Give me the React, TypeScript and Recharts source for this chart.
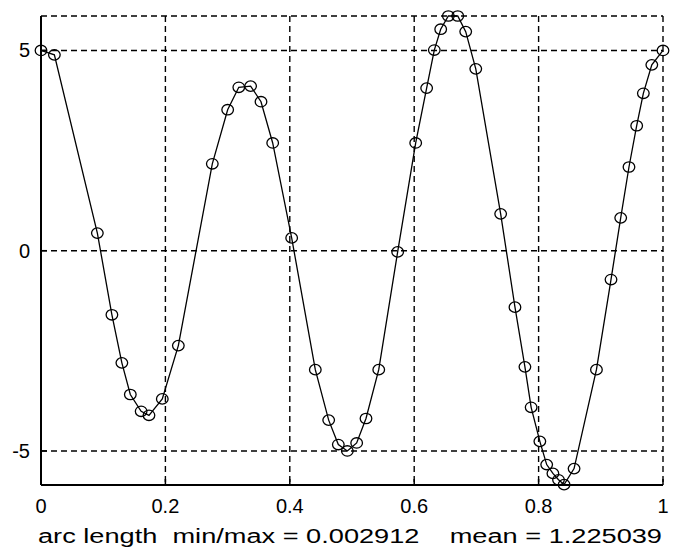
import { CartesianGrid, Label, Line, LineChart, XAxis, YAxis } from 'recharts';

// arc length samples (x) and curve values (y)
const arcX = [
  0, 0.0215, 0.0906, 0.114, 0.13, 0.1436, 0.161, 0.1736, 0.195, 0.2208,
  0.2754, 0.3001, 0.318, 0.337, 0.3537, 0.3725, 0.403, 0.441, 0.4625, 0.478,
  0.4925, 0.5075, 0.5225, 0.543, 0.5734, 0.6024, 0.62, 0.6323, 0.6426, 0.6549,
  0.67, 0.6828, 0.699, 0.739, 0.762, 0.778, 0.788, 0.802, 0.813, 0.823,
  0.832, 0.841, 0.857, 0.893, 0.9164, 0.932, 0.9453, 0.9577, 0.9684, 0.982, 1,
];
const arcY = [
  5.0, 4.89, 0.44, -1.6, -2.8, -3.59, -4.01, -4.11, -3.7, -2.37,
  2.17, 3.52, 4.08, 4.11, 3.72, 2.69, 0.32, -2.97, -4.23, -4.84,
  -5.0, -4.8, -4.19, -2.97, -0.03, 2.69, 4.06, 5.01, 5.53, 5.86,
  5.86, 5.47, 4.54, 0.92, -1.41, -2.9, -3.91, -4.76, -5.34, -5.56,
  -5.72, -5.84, -5.44, -2.97, -0.72, 0.82, 2.09, 3.12, 3.93, 4.64, 5.0,
];

const xTicks = [0, 0.2, 0.4, 0.6, 0.8, 1];
const yTicks = [-5, 0, 5];
const xLabel = 'arc length  min/max = 0.002912    mean = 1.225039';

const data = arcX.map((x, i) => ({ x, y: arcY[i] }));

const font = '"Liberation Sans", Arial, sans-serif';

const Marker = (props: any) => {
  const { cx, cy, index } = props;
  if (cx == null || cy == null) return <g key={index} />;
  return <ellipse key={index} cx={cx} cy={cy} rx={5.8} ry={5.2} fill="none" stroke="#000" strokeWidth={1.3} />;
};

const BottomTick = (props: any) => {
  const { x, y, payload } = props;
  return (
    <g>
      <line x1={x} y1={y} x2={x} y2={y - 6} stroke="#000" strokeWidth={1.5} />
      <text x={x} y={y + 28} textAnchor="middle" fontSize={20} fontFamily={font} fill="#000">
        {payload.value}
      </text>
    </g>
  );
};

const TopTick = (props: any) => {
  const { x, y } = props;
  return <line x1={x} y1={y} x2={x} y2={y + 6} stroke="#000" strokeWidth={1.5} />;
};

const LeftTick = (props: any) => {
  const { x, y, payload } = props;
  return (
    <g>
      <line x1={x} y1={y} x2={x + 6} y2={y} stroke="#000" strokeWidth={1.5} />
      <text x={x - 11} y={y + 7} textAnchor="end" fontSize={20} fontFamily={font} fill="#000">
        {payload.value}
      </text>
    </g>
  );
};

const RightTick = (props: any) => {
  const { x, y } = props;
  return <line x1={x} y1={y} x2={x - 6} y2={y} stroke="#000" strokeWidth={1.5} />;
};

export default function App() {
  return (
    <div style={{ position: 'absolute', left: 0, top: 0, background: '#fff' }}>
      <LineChart width={675} height={550} data={data} margin={{ top: 16, right: 12, bottom: 0, left: 0 }}>
        <CartesianGrid stroke="#000" strokeWidth={1.4} strokeDasharray="6 4" />
        <XAxis
          dataKey="x"
          type="number"
          domain={[0, 1]}
          ticks={xTicks}
          height={65}
          tickSize={0}
          tickMargin={0}
          tickLine={false}
          axisLine={{ stroke: '#000', strokeWidth: 2 }}
          tick={<BottomTick />}
          interval={0}
        >
          <Label
            content={(p: any) => {
              const vb = p.viewBox || { x: 41, width: 622, y: 485 };
              return (
                <text
                  x={vb.x + vb.width / 2 - 2}
                  y={543}
                  textAnchor="middle"
                  fontSize={20}
                  fontFamily={font}
                  fill="#000"
                  textLength={624}
                  lengthAdjust="spacingAndGlyphs"
                  style={{ whiteSpace: 'pre' }}
                >
                  {xLabel}
                </text>
              );
            }}
          />
        </XAxis>
        <XAxis
          xAxisId="top"
          orientation="top"
          type="number"
          domain={[0, 1]}
          ticks={xTicks}
          height={0}
          tickSize={0}
          tickLine={false}
          axisLine={{ stroke: '#000', strokeWidth: 2 }}
          tick={<TopTick />}
          interval={0}
        />
        <YAxis
          type="number"
          domain={[-5.85, 5.86]}
          ticks={yTicks}
          width={41}
          tickSize={0}
          tickMargin={0}
          tickLine={false}
          axisLine={{ stroke: '#000', strokeWidth: 2 }}
          tick={<LeftTick />}
          interval={0}
        />
        <YAxis
          yAxisId="right"
          orientation="right"
          type="number"
          domain={[-5.85, 5.86]}
          ticks={yTicks}
          width={0}
          tickSize={0}
          tickLine={false}
          axisLine={{ stroke: '#000', strokeWidth: 2 }}
          tick={<RightTick />}
          interval={0}
        />
        <Line
          type="linear"
          dataKey="y"
          stroke="#000"
          strokeWidth={1.3}
          dot={<Marker />}
          activeDot={false}
          isAnimationActive={false}
        />
      </LineChart>
    </div>
  );
}
